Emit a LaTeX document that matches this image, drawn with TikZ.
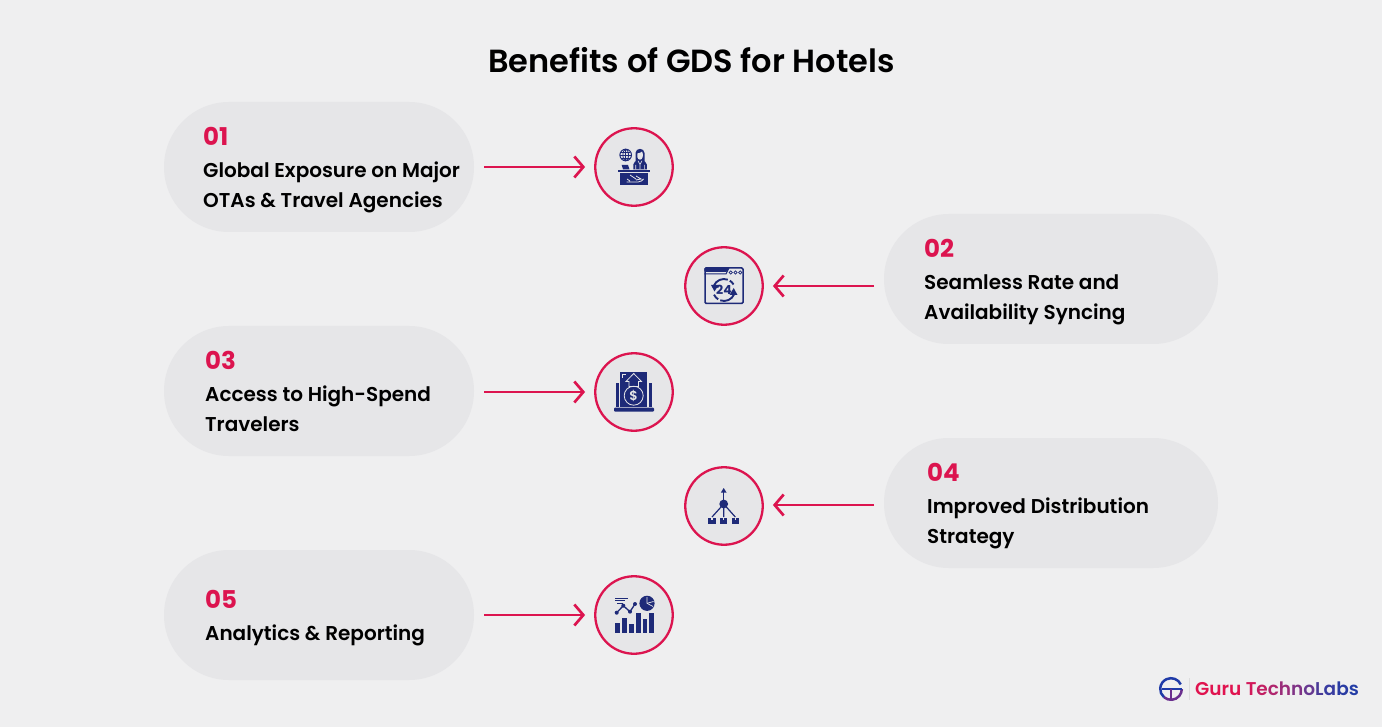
\documentclass[tikz,border=0pt]{standalone}
\usepackage{fontspec}
\setmainfont{Poppins}[UprightFont=* SemiBold,BoldFont=* Bold]
\usetikzlibrary{arrows.meta}
\definecolor{bgc}{HTML}{EFEFF0}
\definecolor{pillc}{HTML}{E6E6E8}
\definecolor{redc}{HTML}{DC144F}
\definecolor{navy}{HTML}{1E2A78}
\definecolor{logob}{HTML}{1F3AA8}
\definecolor{logop}{HTML}{6A2F8E}
\tikzset{
 x=1pt,y=-1pt,
 pill/.style={fill=pillc,draw=none,rounded corners=65pt,minimum height=130pt,inner sep=0pt},
 halo/.style={circle,draw=redc,line width=2.3pt,fill=pillc,minimum size=77.5pt,inner sep=0pt},
 num/.style={anchor=base west,inner sep=0pt,text=redc,font=\bfseries\fontsize{24.5}{24.5}\selectfont},
 body/.style={anchor=base west,inner sep=0pt,text=black,font=\fontsize{20}{30}\selectfont,align=left},
 conn/.style={redc,line width=2.7pt,-{Straight Barb[length=9pt,width=21pt,line width=2.7pt]},shorten >=9pt},
 holel/.style={draw=pillc,line width=.8pt,fill=none},
}
\begin{document}
\begin{tikzpicture}
\useasboundingbox (0,0) rectangle (1382,727);
\fill[bgc] (0,0) rectangle (1382,727);
\node[anchor=base,inner sep=0pt,font=\fontsize{32}{32}\selectfont,text=black] (title) at (691.5,72.5) {Benefits of GDS for Hotels};

% pills
\node[pill,minimum width=310pt] (p1) at (319,167) {};
\node[pill,minimum width=334pt] (p2) at (1051,279) {};
\node[pill,minimum width=310pt] (p3) at (319,391) {};
\node[pill,minimum width=334pt] (p4) at (1051,503) {};
\node[pill,minimum width=310pt] (p5) at (319,615) {};

% labels
\node[num] (n1) at (203,145.7) {01};
\node[body] (t1) at (203,207.7) {Global Exposure on Major\\OTAs \& Travel Agencies};
\node[num] (n2) at (924,257.7) {02};
\node[body] (t2) at (924,319.7) {Seamless Rate and\\Availability Syncing};
\node[num] (n3) at (205,369.7) {03};
\node[body] (t3) at (205,431.2) {Access to High-Spend\\Travelers};
\node[num] (n4) at (927,481) {04};
\node[body] (t4) at (927,543) {Improved Distribution\\Strategy};
\node[num] (n5) at (205,608) {05};
\node[body] (t5) at (205,640) {Analytics \& Reporting};

% circles
\node[halo] (c1) at (634,167) {};
\node[halo] (c2) at (724,286) {};
\node[halo] (c3) at (634,392) {};
\node[halo] (c4) at (724,506) {};
\node[halo] (c5) at (634,615) {};

% connectors
\coordinate (s1) at (484,167);
\coordinate (s2) at (874,286);
\coordinate (s3) at (484,392);
\coordinate (s4) at (874,505);
\coordinate (s5) at (484,615);
\draw[conn] (s1) -- (c1.west);
\draw[conn] (s2) -- (c2.east);
\draw[conn] (s3) -- (c3.west);
\draw[conn] (s4) -- (c4.east |- s4);
\draw[conn] (s5) -- (c5.west);

% icon 1: agent at a desk
\draw[navy,line width=1pt] (625.7,155) circle (5.8);
\draw[navy,line width=.8pt] (619.9,155) -- (631.5,155) (625.7,149.2) -- (625.7,160.8) (621,152) -- (630.4,152) (621,158) -- (630.4,158);
\draw[navy,line width=.8pt] (625.7,155) ellipse (2.8 and 5.8);
% hair and face
\fill[navy] (635.5,162) -- (635.5,153) .. controls (635.5,147.5) and (644.5,147.5) .. (644.5,153) -- (644.5,162) -- cycle;
\fill[pillc] (637.3,153.5) .. controls (640,153) and (641,152.5) .. (642,151.5) .. controls (642.5,152.5) and (642.7,153) .. (642.9,154) -- (642.7,157) .. controls (642,160.5) and (638,160.5) .. (637.3,157) -- cycle;
% torso
\fill[navy] (633.3,169.3) -- (633.3,164.5) .. controls (633.3,162) and (636,161) .. (638,160.3) -- (642,160.3) .. controls (644,161) and (646.8,162) .. (646.8,164.5) -- (646.8,169.3) -- cycle;
\draw[pillc,line width=.6pt] (638,160.8) -- (640,164.5) -- (642,160.8) (640,164.5) -- (640,169) (635.7,165) -- (635.7,169.3) (644.3,165) -- (644.3,169.3);
% laptop
\fill[navy] (621.7,165) -- (628,165) -- (629.5,169.3) -- (623,169.3) -- cycle;
% desk
\fill[navy] (618.3,170) rectangle (650,172.3);
\fill[navy] (620,173) rectangle (648.3,185);
\draw[holel] (626.5,182) -- (638,182) .. controls (641,182) and (643,180) .. (643.5,179) (636,176) -- (641,179) -- (636,180) (627,179) -- (630,181) (630,175) -- (636,179);

% icon 2: 24-hour window
\draw[navy,line width=1.5pt,rounded corners=1.2pt] (705,268) rectangle (743,303.5);
\fill[navy,rounded corners=1pt] (704.4,267.4) -- (729,267.4) -- (727,272) -- (704.4,272) -- cycle;
\draw[navy,line width=1pt] (704.4,274) -- (726,274) -- (729,268);
\foreach \dx in {730.7,735.5,740.2} \draw[navy,line width=.7pt] (\dx,272.5) circle (1.7);
\draw[navy,line width=1.9pt] ([shift={(158:11pt)}]724,290) arc (158:70:11pt);
\draw[navy,line width=1.9pt] ([shift={(-22:11pt)}]724,290) arc (-22:-110:11pt);
\draw[navy,line width=1.9pt] ([shift={(58:11pt)}]724,290) arc (58:30:11pt);
\draw[navy,line width=1.9pt] ([shift={(238:11pt)}]724,290) arc (238:205:11pt);
\fill[navy] (711,285) -- (718.5,285) -- (714.5,291.5) -- cycle;
\fill[navy] (729.5,295) -- (737.5,295) -- (733.7,288) -- cycle;
\node[inner sep=0pt,text=navy,font=\bfseries\fontsize{12.5}{12.5}\selectfont] (i24) at (724,290) {24};

% icon 3: money bag on a laptop
\fill[navy] (620,372.3) rectangle (647.3,406.7);
\fill[navy] (616,382.5) rectangle (619,406.7);
\fill[navy] (649.3,382.5) rectangle (652,406.7);
\fill[navy,rounded corners=1pt] (614,407.7) rectangle (654,411.7);
\draw[holel] (622.5,378) -- (622.5,374.5) -- (626,374.5);
\draw[holel] (633.7,373.5) -- (626,381.5) -- (629,381.5) -- (629,386.5) -- (638.5,386.5) -- (638.5,381.5) -- (641.5,381.5) -- cycle;
\draw[holel] (633.7,395.7) circle (9.5);
\node[inner sep=0pt,text=pillc,font=\fontsize{13}{13}\selectfont] (idollar) at (633.7,395.7) {\$};

% icon 4: distribution tree
\fill[navy] (723.7,504) circle (4.4);
\draw[navy,line width=1.3pt] (723.7,504) -- (723.7,490);
\fill[navy] (723.7,488) -- (726.5,492.5) -- (720.9,492.5) -- cycle;
\draw[navy,line width=1.2pt] (723.7,504) -- (723.7,517) (723.7,504) -- (712,517) (723.7,504) -- (735.3,517);
\foreach \bx in {712,723.7,735.3} {
  \fill[navy] (\bx-3.6,517.5) rectangle (\bx+3.6,524);
  \fill[pillc] (\bx-.7,517.5) rectangle (\bx+.7,519.5);
}

% icon 5: analytics
\foreach \bx/\by in {615.3/622.7,622.3/617.7,629/624,636/612.7,642.7/619.3,649.3/612.7}
  \fill[navy] (\bx,\by) rectangle (\bx+4.6,632.7);
\fill[navy] (647,603.3) circle (7.6);
\draw[pillc,line width=.7pt] (647,603.3) -- (647,597) (647,603.3) -- (653,606.5);
\draw[pillc,line width=.7pt] (647,603.3) -- (653.5,601.5);
\draw[navy,line width=1.3pt] (616.7,612.7) -- (623.3,605.7) -- (630,611.7) -- (635,604);
\foreach \px/\py in {616.7/612.7,623.3/605.7,630/611.7,635/604} \fill[navy] (\px,\py) circle (2);
\draw[navy,line width=1pt] (615,598.3) -- (628.3,598.3) (615,600.9) -- (625,600.9);
\draw[navy,line width=1pt] (617,603.5) -- (623,603.5);

% logo
\draw[logob,line width=2.5pt] ([shift={(25:10.8pt)}]1171,689) arc (25:230:10.8pt);
\draw[logop,line width=2.5pt] ([shift={(230:10.8pt)}]1171,689) arc (230:360:10.8pt);
\draw[logob,line width=2.2pt] (1162,689) -- (1182,689);
\draw[logop,line width=2.2pt] (1171,689) -- (1171,699);
\draw[bgc!92!black,line width=.8pt] (1189,678) -- (1189,700);
\node[anchor=base west,inner sep=0pt,font=\fontsize{18.5}{18.5}\selectfont] (logo) at (1195,695.5) {%
\textcolor[HTML]{E0134F}{Guru }\textcolor[HTML]{D2195A}{T}\textcolor[HTML]{C21F63}{e}\textcolor[HTML]{B0266E}{c}\textcolor[HTML]{9A2D7A}{h}\textcolor[HTML]{803386}{n}\textcolor[HTML]{673890}{o}\textcolor[HTML]{4A3A98}{L}\textcolor[HTML]{383BA0}{a}\textcolor[HTML]{2A3CA3}{b}\textcolor[HTML]{233DA6}{s}};
\end{tikzpicture}
\end{document}
